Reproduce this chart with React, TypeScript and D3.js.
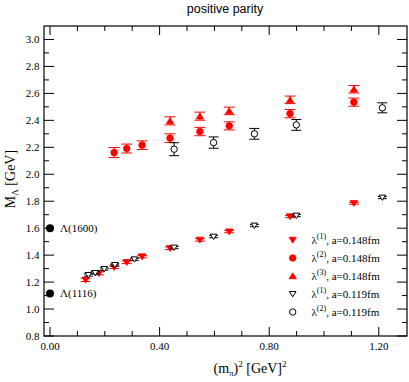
import React from "react";
import * as d3 from "d3";

// lambda^(1), a=0.148fm (red filled down-triangles)
const l1aX = [0.130, 0.179, 0.234, 0.280, 0.336, 0.438, 0.547, 0.654, 0.876, 1.109];
const l1aY = [1.216, 1.265, 1.310, 1.347, 1.389, 1.451, 1.513, 1.574, 1.686, 1.785];
const l1aE = [0.012, 0.011, 0.010, 0.010, 0.009, 0.010, 0.009, 0.008, 0.008, 0.007];
// lambda^(2), a=0.148fm (red filled circles)
const l2aX = [0.234, 0.280, 0.336, 0.438, 0.547, 0.654, 0.876, 1.109];
const l2aY = [2.161, 2.191, 2.216, 2.268, 2.317, 2.359, 2.450, 2.535];
const l2aE = [0.037, 0.033, 0.032, 0.032, 0.031, 0.030, 0.031, 0.030];
// lambda^(3), a=0.148fm (red filled up-triangles)
const l3aX = [0.438, 0.547, 0.654, 0.876, 1.109];
const l3aY = [2.396, 2.431, 2.470, 2.552, 2.631];
const l3aE = [0.030, 0.030, 0.028, 0.028, 0.028];
// lambda^(1), a=0.119fm (open down-triangles)
const l1bX = [0.140, 0.165, 0.198, 0.237, 0.308, 0.453, 0.597, 0.746, 0.899, 1.213];
const l1bY = [1.253, 1.268, 1.297, 1.327, 1.369, 1.456, 1.537, 1.619, 1.693, 1.827];
const l1bE = [0.009, 0.009, 0.008, 0.008, 0.008, 0.008, 0.008, 0.008, 0.008, 0.008];
// lambda^(2), a=0.119fm (open circles)
const l2bX = [0.453, 0.597, 0.746, 0.899, 1.213];
const l2bY = [2.186, 2.235, 2.300, 2.366, 2.493];
const l2bE = [0.048, 0.042, 0.040, 0.040, 0.037];
// Experimental states
const expNames = ["Λ(1600)", "Λ(1116)"];
const expMass = [1.6, 1.116];

const xMajor = [0.0, 0.4, 0.8, 1.2];
const xMajorLabels = ["0.00", "0.40", "0.80", "1.20"];
const yMajor = [0.8, 1.0, 1.2, 1.4, 1.6, 1.8, 2.0, 2.2, 2.4, 2.6, 2.8, 3.0];
const yMajorLabels = ["0.8", "1.0", "1.2", "1.4", "1.6", "1.8", "2.0", "2.2", "2.4", "2.6", "2.8", "3.0"];
const legendLabels = [
  { sup: "(1)", rest: ", a=0.148fm" },
  { sup: "(2)", rest: ", a=0.148fm" },
  { sup: "(3)", rest: ", a=0.148fm" },
  { sup: "(1)", rest: ", a=0.119fm" },
  { sup: "(2)", rest: ", a=0.119fm" },
];

const L = 44, R = 407, T = 26, B = 336;
const RED = "#ff0000";
const serif = "'Liberation Serif', 'Times New Roman', serif";
const sans = "'Liberation Sans', Arial, sans-serif";

function Marker({ kind, x, y }: { kind: string; x: number; y: number }) {
  const s = 3.7;
  if (kind === "dtri") {
    return <path d={`M${x - s},${y - s * 0.75}L${x + s},${y - s * 0.75}L${x},${y + s * 0.85}Z`} fill={RED} stroke={RED} strokeWidth={0.8} />;
  }
  if (kind === "utri") {
    return <path d={`M${x - s},${y + s * 0.75}L${x + s},${y + s * 0.75}L${x},${y - s * 0.85}Z`} fill={RED} stroke={RED} strokeWidth={0.8} />;
  }
  if (kind === "circ") {
    return <circle cx={x} cy={y} r={3.3} fill={RED} stroke={RED} strokeWidth={0.8} />;
  }
  if (kind === "odtri") {
    const t = 3.3;
    return <path d={`M${x - t},${y - t * 0.75}L${x + t},${y - t * 0.75}L${x},${y + t * 0.85}Z`} fill="white" stroke="black" strokeWidth={1} />;
  }
  return <circle cx={x} cy={y} r={3.2} fill="white" stroke="black" strokeWidth={1} />;
}

export default function App() {
  const xs = d3.scaleLinear().domain([-0.0219, 1.3029]).range([L, R]);
  const ys = d3.scaleLinear().domain([0.8, 3.1]).range([B, T]);

  const xMinor = d3.range(0, 13).map((i) => i / 10).filter((v) => !xMajor.some((m) => Math.abs(m - v) < 1e-6));
  const yMinor = d3.range(8, 31).map((i) => i / 10).filter((v) => !yMajor.some((m) => Math.abs(m - v) < 1e-6));

  const series = [
    { X: l1aX, Y: l1aY, E: l1aE, kind: "dtri", color: RED, cap: 5 },
    { X: l2aX, Y: l2aY, E: l2aE, kind: "circ", color: RED, cap: 5.5 },
    { X: l3aX, Y: l3aY, E: l3aE, kind: "utri", color: RED, cap: 5.5 },
    { X: l1bX, Y: l1bY, E: l1bE, kind: "odtri", color: "black", cap: 4.5 },
    { X: l2bX, Y: l2bY, E: l2bE, kind: "ocirc", color: "black", cap: 5 },
  ];

  const legX = 292.7, legTextX = 311.5, legY0 = 240, legDy = 18;

  return (
    <svg width={409} height={382} style={{ position: "absolute", left: 0, top: 0, background: "white" }}>
      <rect x={0} y={0} width={409} height={382} fill="white" />
      {/* title */}
      <text x={225} y={13} textAnchor="middle" fontFamily={sans} fontSize={12.5} fill="black">positive parity</text>

      {/* ticks */}
      {xMajor.map((v, i) => (
        <g key={"xm" + i}>
          <line x1={xs(v)} x2={xs(v)} y1={B} y2={B - 9} stroke="black" strokeWidth={1} />
          <line x1={xs(v)} x2={xs(v)} y1={T} y2={T + 9} stroke="black" strokeWidth={1} />
          <text x={xs(v)} y={350} textAnchor="middle" fontFamily={serif} fontSize={11}>{xMajorLabels[i]}</text>
        </g>
      ))}
      {xMinor.map((v, i) => (
        <g key={"xn" + i}>
          <line x1={xs(v)} x2={xs(v)} y1={B} y2={B - 5} stroke="black" strokeWidth={1} />
          <line x1={xs(v)} x2={xs(v)} y1={T} y2={T + 5} stroke="black" strokeWidth={1} />
        </g>
      ))}
      {yMajor.map((v, i) => (
        <g key={"ym" + i}>
          <line x1={L} x2={L + 10} y1={ys(v)} y2={ys(v)} stroke="black" strokeWidth={1} />
          <line x1={R} x2={R - 10} y1={ys(v)} y2={ys(v)} stroke="black" strokeWidth={1} />
          <text x={39.5} y={ys(v) + 4} textAnchor="end" fontFamily={serif} fontSize={11}>{yMajorLabels[i]}</text>
        </g>
      ))}
      {yMinor.map((v, i) => (
        <g key={"yn" + i}>
          <line x1={L} x2={L + 5} y1={ys(v)} y2={ys(v)} stroke="black" strokeWidth={1} />
          <line x1={R} x2={R - 5} y1={ys(v)} y2={ys(v)} stroke="black" strokeWidth={1} />
        </g>
      ))}
      <rect x={L} y={T} width={R - L} height={B - T} fill="none" stroke="black" strokeWidth={1.2} />

      {/* axis titles */}
      <text x={250} y={373} textAnchor="middle" fontFamily={serif} fontSize={14}>
        (m<tspan dy={3} fontSize={9}>π</tspan><tspan dy={-3}>)</tspan><tspan dy={-6} fontSize={9}>2</tspan><tspan dy={6}> [GeV]</tspan><tspan dy={-6} fontSize={9}>2</tspan>
      </text>
      <text transform={`translate(15,179) rotate(-90)`} textAnchor="middle" fontFamily={serif} fontSize={14}>
        M<tspan dy={3} fontSize={9}>Λ</tspan><tspan dy={-3}> [GeV]</tspan>
      </text>

      {/* experimental points */}
      {expMass.map((m, i) => (
        <g key={"exp" + i}>
          <circle cx={xs(0)} cy={ys(m)} r={4} fill="black" />
          <text x={60} y={ys(m) + 4} fontFamily={serif} fontSize={11}>{expNames[i]}</text>
        </g>
      ))}

      {/* data with error bars */}
      {series.map((s, si) => (
        <g key={"s" + si}>
          {s.X.map((xv, i) => {
            const cx = xs(xv);
            const yt = ys(s.Y[i] + s.E[i]);
            const yb = ys(s.Y[i] - s.E[i]);
            return (
              <g key={i}>
                <line x1={cx} x2={cx} y1={yt} y2={yb} stroke={s.color} strokeWidth={1} />
                <line x1={cx - s.cap} x2={cx + s.cap} y1={yt} y2={yt} stroke={s.color} strokeWidth={1} />
                <line x1={cx - s.cap} x2={cx + s.cap} y1={yb} y2={yb} stroke={s.color} strokeWidth={1} />
              </g>
            );
          })}
          {s.X.map((xv, i) => (
            <Marker key={"m" + i} kind={s.kind} x={xs(xv)} y={ys(s.Y[i])} />
          ))}
        </g>
      ))}

      {/* legend */}
      {series.map((s, i) => (
        <g key={"leg" + i}>
          <Marker kind={s.kind} x={legX} y={legY0 + i * legDy} />
          <text x={legTextX} y={legY0 + i * legDy + 4} fontFamily={serif} fontSize={11}>
            λ<tspan dy={-5} fontSize={8}>{legendLabels[i].sup}</tspan><tspan dy={5}>{legendLabels[i].rest}</tspan>
          </text>
        </g>
      ))}
    </svg>
  );
}
